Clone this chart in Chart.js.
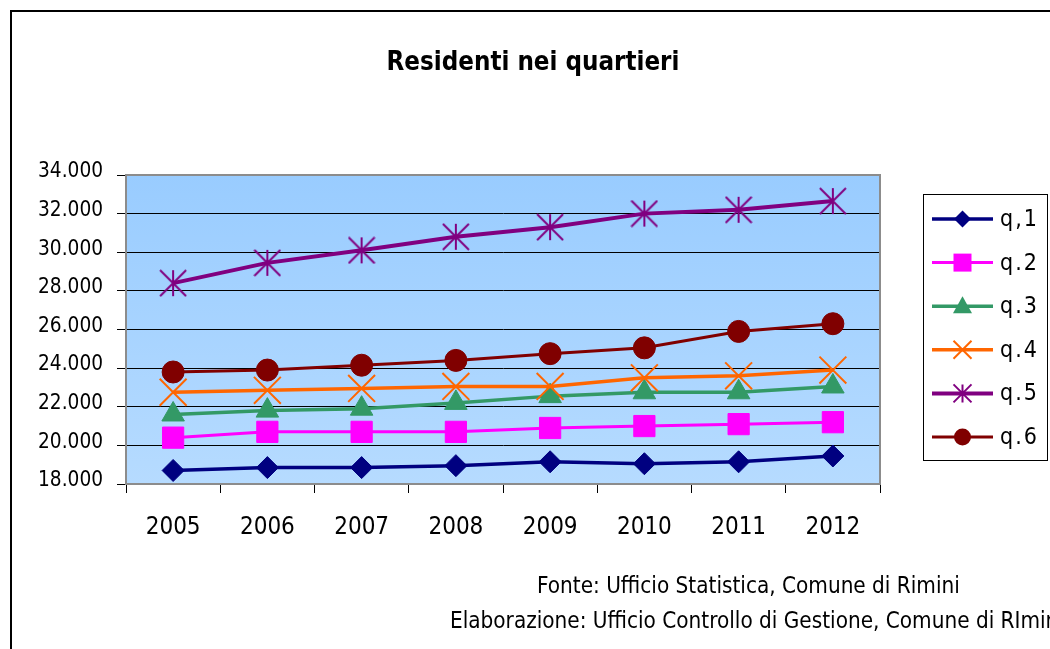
<!DOCTYPE html>
<html>
<head>
<meta charset="utf-8">
<script src="https://cdn.jsdelivr.net/npm/chart.js@4/dist/chart.umd.min.js"></script>
<style>
html,body{margin:0;padding:0;background:#fff;}
#c{display:block;}
</style>
</head>
<body>
<canvas id="c" width="1050" height="649"></canvas>
<script>
// ---- data ----
const years = ['2005','2006','2007','2008','2009','2010','2011','2012'];
const seriesNames = ['q,1','q.2','q.3','q.4','q.5','q.6'];
const q1 = [18700, 18850, 18850, 18950, 19150, 19050, 19150, 19450];
const q2 = [20400, 20700, 20700, 20700, 20900, 21000, 21100, 21200];
const q3 = [21600, 21800, 21900, 22200, 22550, 22750, 22750, 23050];
const q4 = [22750, 22850, 22950, 23050, 23050, 23500, 23600, 23900];
const q5 = [28400, 29450, 30100, 30800, 31300, 32000, 32200, 32650];
const q6 = [23800, 23900, 24150, 24400, 24750, 25050, 25900, 26300];
const yMin = 18000, yMax = 34000, yStep = 2000;
const titleText = 'Residenti nei quartieri';
const footer1 = 'Fonte: Ufficio Statistica, Comune di Rimini';
const footer2 = 'Elaborazione: Ufficio Controllo di Gestione, Comune di RImini';

const FONT = '"DejaVu Sans Condensed", "DejaVu Sans", sans-serif';

// font size fitting helper (sizes chosen so text widths match the reference)
const mctx = document.createElement('canvas').getContext('2d');
function fitSize(text, weight, target) {
  mctx.font = weight + ' 100px ' + FONT;
  return 100 * target / mctx.measureText(text).width;
}
const titleSize = fitSize(titleText, 'bold', 293);
const footSize = fitSize(footer1, 'normal', 423);
const yTickSize = fitSize('34.000', 'normal', 65);
const xTickSize = fitSize('2005', 'normal', 55);

// asterisk point image
function makeAsterisk(size, color, lw) {
  const cv = document.createElement('canvas');
  cv.width = size; cv.height = size;
  const g = cv.getContext('2d');
  const h = size / 2, r = h - 1;
  g.strokeStyle = color; g.lineWidth = lw; g.lineCap = 'butt';
  g.beginPath();
  g.moveTo(h, h - r); g.lineTo(h, h + r);
  g.moveTo(h - r, h - r); g.lineTo(h + r, h + r);
  g.moveTo(h + r, h - r); g.lineTo(h - r, h + r);
  g.stroke();
  return cv;
}
const asterisk = makeAsterisk(28, '#800080', 2);

const styles = [
  {color:'#000080', lw:3.5, ps:'rectRot', r:11, fill:'#000080'},
  {color:'#FF00FF', lw:3, ps:'rect', r:15, fill:'#FF00FF'},
  {color:'#339966', lw:3.5, ps:'triangle', r:13, fill:'#339966'},
  {color:'#FF6600', lw:3.5, ps:'crossRot', r:19, fill:'#FF6600'},
  {color:'#800080', lw:4, ps:asterisk, r:14, fill:'#800080'},
  {color:'#800000', lw:3, ps:'circle', r:11, fill:'#800000'}
];
const allSeries = [q1, q2, q3, q4, q5, q6];

const datasets = allSeries.map((d, i) => ({
  label: seriesNames[i],
  data: d,
  borderColor: styles[i].color,
  backgroundColor: styles[i].fill,
  borderWidth: styles[i].lw,
  pointStyle: styles[i].ps,
  pointRadius: styles[i].r,
  pointHoverRadius: styles[i].r,
  pointBackgroundColor: styles[i].fill,
  pointBorderColor: styles[i].color,
  pointBorderWidth: (i === 3) ? 2 : 1,
  tension: 0,
  fill: false,
  order: 6 - i
}));

function fmt(v) {
  const s = String(Math.round(v));
  return s.replace(/\B(?=(\d{3})+(?!\d))/g, '.');
}

function legendMarker(ctx, kind, x, y, color) {
  ctx.save();
  ctx.fillStyle = color; ctx.strokeStyle = color;
  ctx.beginPath();
  if (kind === 0) { // diamond
    const r = 8.5;
    ctx.moveTo(x, y - r); ctx.lineTo(x + r, y); ctx.lineTo(x, y + r); ctx.lineTo(x - r, y); ctx.closePath(); ctx.fill();
  } else if (kind === 1) { // square
    ctx.rect(x - 9, y - 9, 18, 18); ctx.fill();
  } else if (kind === 2) { // triangle
    ctx.moveTo(x, y - 10); ctx.lineTo(x + 9.5, y + 7); ctx.lineTo(x - 9.5, y + 7); ctx.closePath(); ctx.fill();
  } else if (kind === 3) { // X
    ctx.lineWidth = 2;
    ctx.moveTo(x - 9, y - 9); ctx.lineTo(x + 9, y + 9);
    ctx.moveTo(x + 9, y - 9); ctx.lineTo(x - 9, y + 9); ctx.stroke();
  } else if (kind === 4) { // asterisk
    ctx.lineWidth = 2;
    ctx.moveTo(x, y - 9); ctx.lineTo(x, y + 9);
    ctx.moveTo(x - 9, y - 9); ctx.lineTo(x + 9, y + 9);
    ctx.moveTo(x + 9, y - 9); ctx.lineTo(x - 9, y + 9); ctx.stroke();
  } else { // circle
    ctx.arc(x, y, 8.5, 0, Math.PI * 2); ctx.fill();
  }
  ctx.restore();
}

const decor = {
  id: 'decor',
  beforeDraw(chart) {
    const ctx = chart.ctx, a = chart.chartArea;
    ctx.save();
    ctx.fillStyle = '#ffffff';
    ctx.fillRect(0, 0, chart.width, chart.height);
    const g = ctx.createLinearGradient(0, a.top, 0, a.bottom);
    g.addColorStop(0, '#99CCFF');
    g.addColorStop(1, '#B6DBFF');
    ctx.fillStyle = g;
    ctx.fillRect(a.left, a.top, a.right - a.left, a.bottom - a.top);
    ctx.restore();
  },
  beforeDatasetsDraw(chart) {
    const ctx = chart.ctx, a = chart.chartArea;
    ctx.save();
    ctx.strokeStyle = '#8c8c8c';
    ctx.lineWidth = 2;
    ctx.strokeRect(a.left, a.top, a.right - a.left, a.bottom - a.top);
    ctx.restore();
  },
  afterDraw(chart) {
    const ctx = chart.ctx;
    ctx.save();
    // outer frame
    ctx.strokeStyle = '#000';
    ctx.lineWidth = 2;
    ctx.beginPath();
    ctx.moveTo(11, 700); ctx.lineTo(11, 11); ctx.lineTo(1100, 11);
    ctx.stroke();
    // title
    ctx.fillStyle = '#000';
    ctx.font = 'bold ' + titleSize + 'px ' + FONT;
    ctx.textAlign = 'center';
    ctx.textBaseline = 'alphabetic';
    ctx.fillText(titleText, 533, 70);
    // footer
    ctx.font = footSize + 'px ' + FONT;
    ctx.textAlign = 'left';
    ctx.fillText(footer1, 537, 593);
    ctx.fillText(footer2, 450, 628);
    // legend box
    ctx.strokeStyle = '#000';
    ctx.lineWidth = 1;
    ctx.strokeRect(923.5, 194.5, 124, 266);
    chart.data.datasets.forEach((ds, i) => {
      const y = 219 + i * 43.6;
      ctx.strokeStyle = ds.borderColor;
      ctx.lineWidth = ds.borderWidth;
      ctx.beginPath();
      ctx.moveTo(932, y); ctx.lineTo(993, y); ctx.stroke();
      legendMarker(ctx, i, 962.5, y, ds.borderColor);
      ctx.fillStyle = '#000';
      ctx.font = '23px ' + FONT;
      ctx.letterSpacing = '2px';
      ctx.textAlign = 'left';
      ctx.textBaseline = 'middle';
      ctx.fillText(ds.label, 1000, y + 1);
      ctx.letterSpacing = '0px';
    });
    ctx.restore();
  }
};

new Chart(document.getElementById('c'), {
  type: 'line',
  data: { labels: years, datasets: datasets },
  plugins: [decor],
  options: {
    responsive: false,
    animation: false,
    events: [],
    layout: { padding: { left: 0, right: 170, top: 175, bottom: 0 } },
    plugins: { legend: { display: false }, title: { display: false }, tooltip: { enabled: false } },
    scales: {
      x: {
        type: 'category',
        offset: true,
        afterFit(s) { s.height = 165; },
        grid: { offset: true, drawOnChartArea: false, drawTicks: true, tickLength: 9, tickColor: '#000', tickWidth: 1 },
        border: { display: true, color: '#8c8c8c', width: 2 },
        ticks: { color: '#000', font: { family: FONT, size: xTickSize }, padding: 20, maxRotation: 0, autoSkip: false }
      },
      y: {
        min: yMin, max: yMax,
        afterFit(s) { s.width = 126; },
        grid: { color: '#000', lineWidth: 1, tickLength: 9, tickColor: '#000' },
        border: { display: true, color: '#8c8c8c', width: 2 },
        ticks: { stepSize: yStep, color: '#000', font: { family: FONT, size: yTickSize }, padding: 14, labelOffset: -3,
                 callback: v => fmt(v) }
      }
    }
  }
});
</script>
</body>
</html>
